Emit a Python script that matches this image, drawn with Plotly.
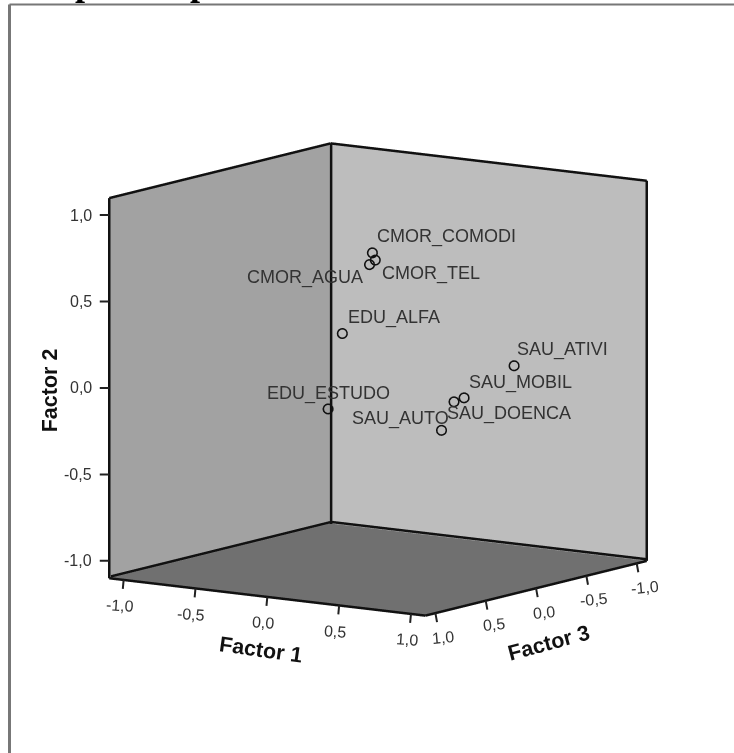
import plotly.graph_objects as go

names = ["CMOR_COMODI", "CMOR_TEL", "CMOR_AGUA", "EDU_ALFA", "EDU_ESTUDO",
         "SAU_ATIVI", "SAU_MOBIL", "SAU_DOENCA", "SAU_AUTO"]
factor1 = [0.19, 0.21, 0.17, 0.17, 0.19, 0.77, 0.52, 0.45, 0.44]
factor2 = [0.80, 0.76, 0.73, 0.37, -0.04, 0.12, -0.07, -0.10, -0.25]
factor3 = [0.33, 0.33, 0.33, 0.60, 0.77, -0.25, -0.11, -0.11, 0.00]
label_dx = [74, 56, -64, 52, 1, 49, 57, 55, -41]
label_dy = [16, -14, -13, 16, 15, 16, 15, -12, 12]

tick_vals = [-1.0, -0.5, 0.0, 0.5, 1.0]
tick_text = ["-1,0", "-0,5", "0,0", "0,5", "1,0"]
LIM = 1.1
TICK_FONT = dict(size=16, family="Liberation Sans", color="#333")
TITLE_FONT = dict(size=21.5, family="Liberation Sans", color="#111")

def axis(bg):
    return dict(
        title=dict(text=""), range=[-LIM, LIM], autorange=False, showticklabels=False, ticks="",
        showgrid=False, zeroline=False, showbackground=True, backgroundcolor=bg,
        showline=False, showspikes=False,
    )

fig = go.Figure()
L = LIM
# the back edges sit a hair inside the walls so that the wall planes do not hide half their width
B = -L + 0.012
edges = [
    ([B,B],[B,B],[-L,L]), ([L,L],[-L,-L],[-L,L]), ([-L,-L],[L,L],[-L,L]),
    ([-L,L],[-L,-L],[L,L]), ([-L,-L],[-L,L],[L,L]),
    ([B,L],[B,B],[B,B]), ([B,B],[B,L],[B,B]),
    ([L,L],[-L,L],[-L,-L]), ([-L,L],[L,L],[-L,-L]),
]
for ex, ey, ez in edges:
    fig.add_trace(go.Scatter3d(x=ex, y=ey, z=ez, mode="lines",
                               line=dict(color="#111", width=5), hoverinfo="skip", showlegend=False))
fig.add_trace(go.Scatter3d(x=factor3, y=factor1, z=factor2, mode="markers", text=names,
                           marker=dict(symbol="circle-open", size=6, color="#111", line=dict(color="#111", width=3)),
                           showlegend=False))

annotations = [dict(x=a, y=b, z=c, text=t, showarrow=False, xshift=dx, yshift=dy,
                    font=dict(size=18, family="Liberation Sans", color="#333"))
               for a, b, c, t, dx, dy in zip(factor3, factor1, factor2, names, label_dx, label_dy)]

def tick(x, y, z, ax, ay):
    return dict(x=x, y=y, z=z, text=" ", showarrow=True, arrowhead=0, arrowwidth=2,
                arrowcolor="#222", ax=ax, ay=ay, standoff=0, font=dict(size=1))

for v, t in zip(tick_vals, tick_text):
    annotations.append(tick(L, -L, v, -11, 0))
    annotations.append(dict(x=L, y=-L, z=v, text=t, showarrow=False, xanchor="right",
                            xshift=-15, font=TICK_FONT))
    annotations.append(tick(L, v, -L, -1, 11))
    annotations.append(dict(x=L, y=v, z=-L, text=t, showarrow=False, xshift=-4, yshift=-26,
                            textangle=4, font=TICK_FONT))
    annotations.append(tick(v, L, -L, 2, 11))
    annotations.append(dict(x=v, y=L, z=-L, text=t, showarrow=False, xshift=8, yshift=-24,
                            textangle=-5, font=TICK_FONT))

annotations.append(dict(x=L, y=-L, z=0, text="<b>Factor 2</b>", showarrow=False, textangle=-90,
                        xshift=-59, yshift=-2, font=TITLE_FONT))
annotations.append(dict(x=L, y=0, z=-L, text="<b>Factor 1</b>", showarrow=False, textangle=8,
                        xshift=-6, yshift=-53, font=TITLE_FONT))
annotations.append(dict(x=0, y=L, z=-L, text="<b>Factor 3</b>", showarrow=False, textangle=-15,
                        xshift=13, yshift=-55, font=TITLE_FONT))

fig.update_layout(
    width=734, height=753, autosize=False, margin=dict(l=0, r=0, t=0, b=0),
    paper_bgcolor="white", showlegend=False,
    scene=dict(
        domain=dict(x=[0.03, 1.0], y=[0.0, 0.9925]),
        xaxis=axis("#BDBDBD"), yaxis=axis("#A2A2A2"), zaxis=axis("#707070"),
        aspectmode="manual", aspectratio=dict(x=1.042, y=1.029, z=1.033),
        camera=dict(projection=dict(type="orthographic"),
                    eye=dict(x=1.564, y=1.082, z=0.33), up=dict(x=0, y=0, z=1),
                    center=dict(x=0, y=0, z=0)),
        annotations=annotations,
    ),
    shapes=[
        dict(type="line", xref="paper", yref="paper", x0=9.5/734, x1=1, y0=1-4.5/753, y1=1-4.5/753,
             line=dict(color="#777", width=2)),
        dict(type="line", xref="paper", yref="paper", x0=9.5/734, x1=9.5/734, y0=0, y1=1-4.5/753,
             line=dict(color="#777", width=3)),
    ],
    annotations=[dict(text="<b>Component plot</b>", xref="paper", yref="paper", x=-1/734, y=1,
                      xanchor="left", yanchor="bottom", yshift=-5, showarrow=False,
                      font=dict(size=36, family="Liberation Serif", color="black"))],
)

fig.write_html("out.html", config=dict(displayModeBar=False),
               post_script="document.body.style.margin='0';document.body.style.overflow='hidden';")
